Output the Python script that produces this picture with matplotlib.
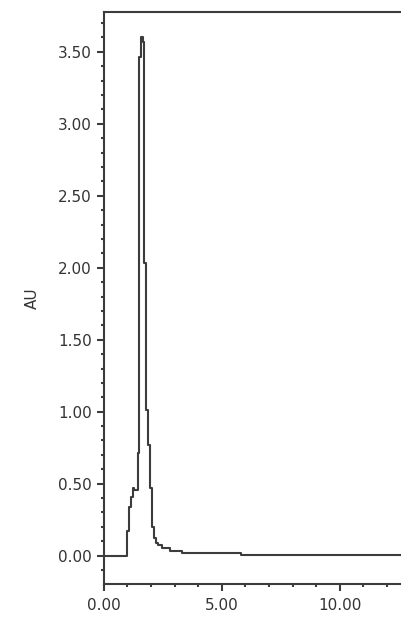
'''
Chromatogram trace (AU vs minutes), stepped detector output
'''

import numpy as np
import matplotlib
matplotlib.use('Agg')
import matplotlib.pyplot as plt
from matplotlib.ticker import MultipleLocator, FormatStrFormatter

# Data (time in min, absorbance in AU)
time_min = [0.00, 0.97, 1.00, 1.08, 1.16, 1.24, 1.30, 1.45, 1.50, 1.58,
            1.66, 1.70, 1.78, 1.86, 1.98, 2.06, 2.13, 2.22, 2.31, 2.46,
            2.81, 3.30, 5.82, 12.70]
absorbance = [0.000, 0.040, 0.170, 0.340, 0.410, 0.470, 0.456, 0.710, 3.465, 3.600,
              3.565, 2.030, 1.010, 0.770, 0.470, 0.200, 0.120, 0.090, 0.074, 0.053,
              0.030, 0.017, 0.003, 0.003]

# Axis ranges / ticks
x_range = (0.0, 12.64)
y_range = (-0.197, 3.776)
x_major, x_minor = 5.0, 1.0
y_major, y_minor = 0.5, 0.1

line_col = '#3c3c3c'
text_col = '#333333'

fig = plt.figure(figsize=(4.02, 6.19), dpi=100)
ax = fig.add_axes([0.258, 0.0565, 0.742, 0.924])

ax.plot(time_min, absorbance, drawstyle='steps-post', color=line_col, lw=1.5)

ax.set_xlim(*x_range)
ax.set_ylim(*y_range)

ax.xaxis.set_major_locator(MultipleLocator(x_major))
ax.xaxis.set_minor_locator(MultipleLocator(x_minor))
ax.yaxis.set_major_locator(MultipleLocator(y_major))
ax.yaxis.set_minor_locator(MultipleLocator(y_minor))
ax.xaxis.set_major_formatter(FormatStrFormatter('%.2f'))
ax.yaxis.set_major_formatter(FormatStrFormatter('%.2f'))

ax.tick_params(which='major', length=5, width=1.5, color=line_col,
               labelsize=11, labelcolor=text_col)
ax.tick_params(axis='y', which='major', pad=3.5)
ax.tick_params(axis='x', which='major', pad=5)
ax.tick_params(which='minor', length=2.5, width=1.5, color=line_col)

for side in ['left', 'top', 'bottom']:
    ax.spines[side].set_color(line_col)
    ax.spines[side].set_linewidth(1.5)
ax.spines['right'].set_visible(False)

ax.set_ylabel('AU', fontsize=11, color=text_col)
ax.yaxis.set_label_coords(-0.213, 0.5)

fig.savefig('out.png', dpi=100)
